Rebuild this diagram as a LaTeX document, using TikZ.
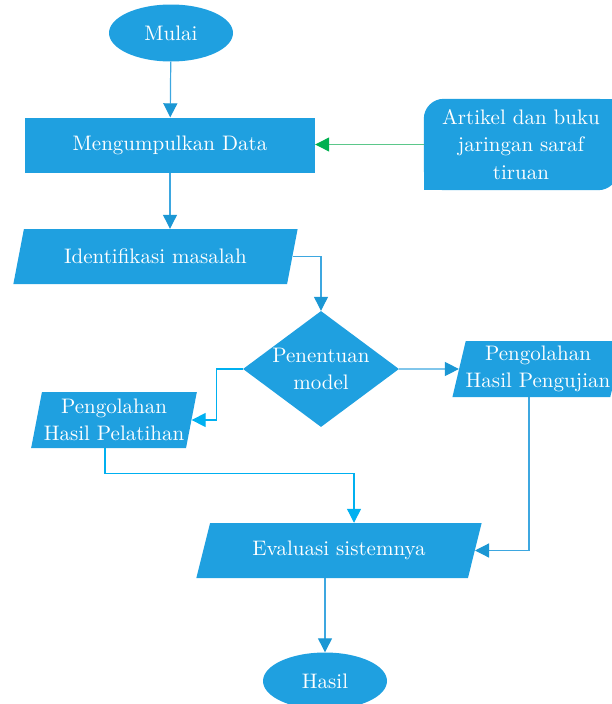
\documentclass[tikz,border=0pt]{standalone}
\usepackage{fontspec}
\setmainfont{lmroman10-regular.otf}
\usetikzlibrary{arrows.meta,positioning,shapes.geometric,backgrounds}
\definecolor{biru}{HTML}{1FA0E0}
\definecolor{garis}{HTML}{3DA7E0}
\definecolor{ujung}{HTML}{1B97D4}
\definecolor{sian}{HTML}{00B0F0}
\definecolor{hijau}{HTML}{00B050}
\definecolor{hijaumuda}{HTML}{5BC78A}

\begin{document}
\begin{tikzpicture}[x=1pt,y=-1pt,
 every node/.style={text=white,font=\fontsize{21}{27.5}\selectfont,inner sep=0pt,align=center},
 terminal/.style={ellipse,fill=biru,minimum width=124pt,minimum height=57pt},
 proses/.style={rectangle,fill=biru,minimum width=290pt,minimum height=55pt},
 io/.style={trapezium,fill=biru,trapezium stretches=true,
 trapezium left angle=#1,trapezium right angle=180-#1},
 keputusan/.style={diamond,fill=biru,aspect=1.34,minimum width=156pt,minimum height=116pt},
 panah/.style={draw=garis,line width=1.2pt,-{Triangle[length=14pt,width=14pt,color=ujung]}},
 panahc/.style={draw=sian,line width=1.2pt,-{Triangle[length=14pt,width=14pt,color=sian]}},
 panahh/.style={draw=hijaumuda,line width=1.2pt,-{Triangle[length=14pt,width=14pt,color=hijau]}}]
\useasboundingbox (0,0) rectangle (611,704);
\node[terminal] (mulai) at (171,33) {Mulai};
\node[proses] (data) at (170,145) {Mengumpulkan Data};
\node[io=64,minimum width=285pt,minimum height=55pt] (ident) at (155.5,256.5) {Identifikasi masalah};
\node[keputusan] (model) at (321,369) {Penentuan\\model};
\node[io=76,minimum width=166pt,minimum height=56pt] (latih) at (114,420) {Pengolahan\\Hasil Pelatihan};
\node[io=74,minimum width=166pt,minimum height=56pt] (uji) at (538,369) {Pengolahan\\Hasil Pengujian};
\node[io=64,minimum width=286pt,minimum height=55pt] (eval) at (339,550.5) {Evaluasi sistemnya};
\node[terminal] (hasil) at (325,681) {Hasil};
\node[minimum width=194pt,minimum height=91pt] (sumber) at (521,144.5) {Artikel dan buku\\jaringan saraf\\tiruan};
\begin{scope}[on background layer]
\fill[biru,rounded corners=20pt] (sumber.south west) rectangle (sumber.north east);
\fill[biru] (sumber.south west) rectangle (sumber.center);
\fill[biru] (sumber.north east) rectangle (sumber.center);
\end{scope}
% alur utama
\draw[panah] (mulai) -- (data);
\draw[panah] (data.south) -- (data.south |- ident.north);
\draw[panah] (ident.east) -| (model.north);
\draw[panah] (model.east) -- (uji.west);
\draw[panahc] (model.west) -- ++(-26,0) |- (latih.east);
\draw[panahc] ([xshift=-9pt]latih.south) -- ++(0,25) -| ([xshift=15pt]eval.north);
\draw[panah] ([xshift=-9pt]uji.south) |- (eval.east);
\draw[panah] (hasil.north |- eval.south) -- (hasil);
\draw[panahh] (sumber.west) -- (sumber.west -| data.east);
\end{tikzpicture}
\end{document}
